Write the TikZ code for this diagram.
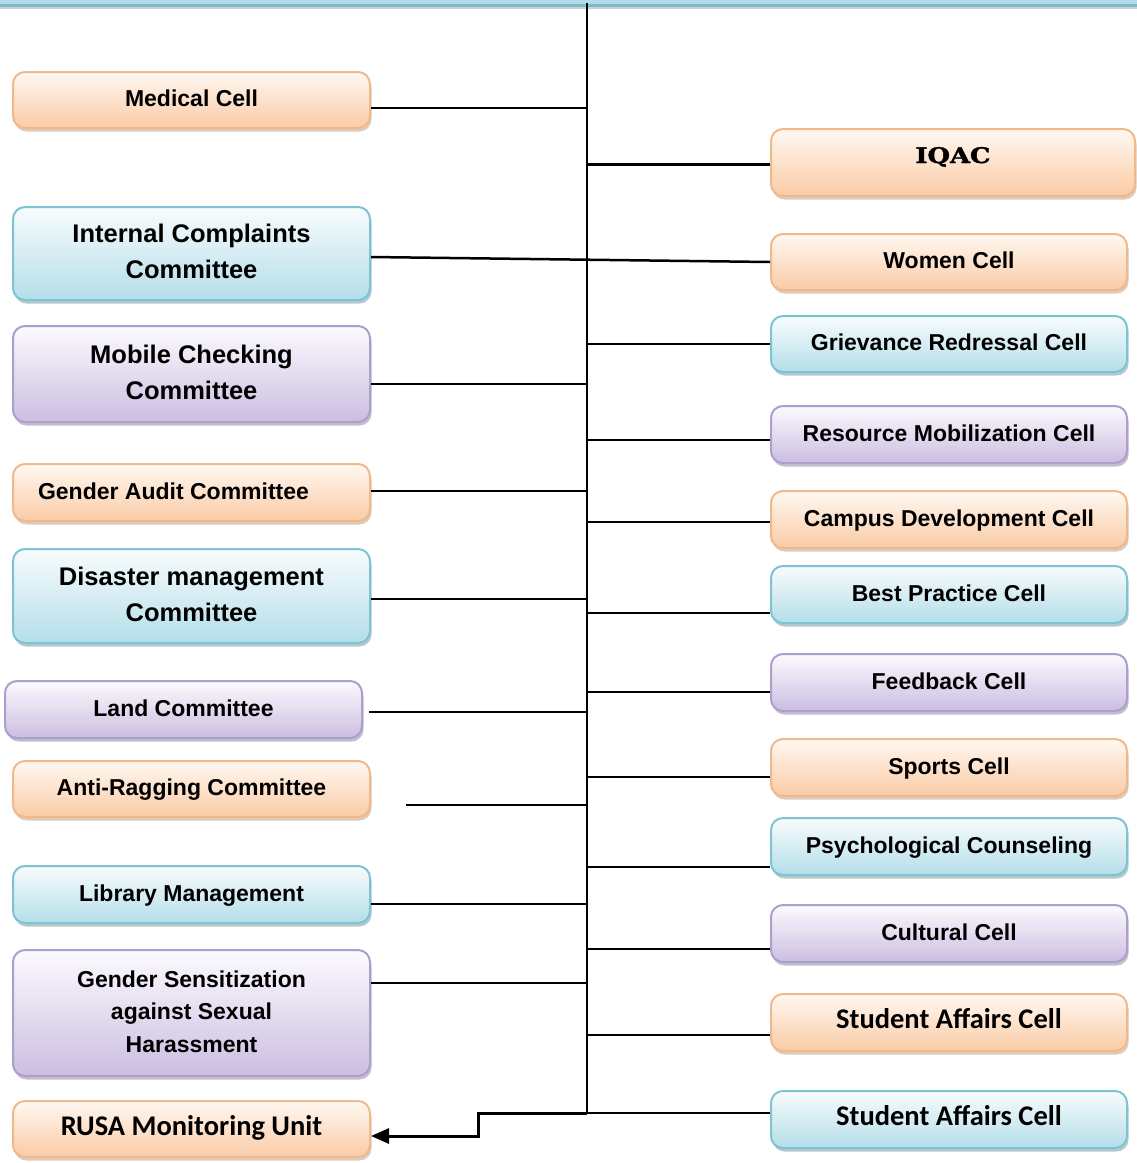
\documentclass[tikz,border=0pt]{standalone}
\usepackage{fontspec}
\setmainfont{Liberation Sans}
\newfontfamily\carl{Carlito}
\newfontface\iqacfont[FakeBold=1.6]{DejaVu Serif Bold}
\usetikzlibrary{shadows,arrows.meta}
\definecolor{obord}{RGB}{240,185,140}
\definecolor{ofill}{RGB}{250,203,165}
\definecolor{otop}{RGB}{255,248,242}
\definecolor{bbord}{RGB}{125,195,212}
\definecolor{bfill}{RGB}{180,222,233}
\definecolor{btop}{RGB}{248,252,253}
\definecolor{pbord}{RGB}{172,158,205}
\definecolor{pfill}{RGB}{203,190,225}
\definecolor{ptop}{RGB}{252,250,254}
\definecolor{band1}{RGB}{178,220,234}
\definecolor{band2}{RGB}{130,185,198}
\definecolor{band3}{RGB}{195,212,216}
\tikzset{
  cell/.style={rounded corners=12pt, line width=2pt, inner sep=0pt, align=center,
    font=\bfseries\fontsize{23}{32.5}\selectfont},
  obox/.style={cell, draw=obord, top color=otop, bottom color=ofill,
    drop shadow={shadow xshift=1.5pt, shadow yshift=-3.5pt, fill=obord!75!black, opacity=.45}},
  bbox/.style={cell, draw=bbord, top color=btop, bottom color=bfill,
    drop shadow={shadow xshift=1.5pt, shadow yshift=-3.5pt, fill=bbord!70!black, opacity=.45}},
  pbox/.style={cell, draw=pbord, top color=ptop, bottom color=pfill,
    drop shadow={shadow xshift=1.5pt, shadow yshift=-3.5pt, fill=pbord!70!black, opacity=.45}},
  big/.style={font=\bfseries\fontsize{25.5}{36}\selectfont},
  cal/.style={font=\carl\bfseries\fontsize{28.5}{32}\selectfont},
  link/.style={line width=2.5pt, black},
}
\newcommand\cellbox[7]{%
  \node[#6, minimum width={(#4-#2)*1pt}, minimum height={(#5-#3-4)*1pt}]
    (#1) at ({(#2+#4)/2},{(#3+#5-4)/2})
    {\raisebox{2.5pt}{\begin{tabular}{@{}c@{}}#7\end{tabular}}};}
\begin{document}
\begin{tikzpicture}[x=1pt,y=-1pt]
\useasboundingbox (0,0) rectangle (1137,1163);
% top band
\fill[band1] (0,0) rectangle (1137,3.5);
\fill[band2] (0,3.5) rectangle (1137,7);
\fill[band3] (0,7) rectangle (1137,9);
% left column
\cellbox{med}{13}{72}{370}{132}{obox}{Medical Cell}
\cellbox{icc}{13}{207}{370}{304}{bbox,big}{Internal Complaints\\Committee}
\cellbox{mob}{13}{326}{370}{426}{pbox,big}{Mobile Checking\\Committee}
\cellbox{gac}{13}{464}{370}{525}{obox}{Gender Audit Committee\hspace*{36pt}}
\cellbox{dis}{13}{549}{370}{647}{bbox,big}{Disaster management\\Committee}
\cellbox{land}{5}{681}{362}{742}{pbox}{Land Committee}
\cellbox{anti}{13}{761}{370}{821}{obox}{Anti-Ragging Committee}
\cellbox{lib}{13}{866}{370}{927}{bbox}{Library Management}
\cellbox{gss}{13}{950}{370}{1080}{pbox}{Gender Sensitization\\against Sexual\\Harassment}
\cellbox{rusa}{13}{1101}{370}{1161}{obox,cal}{RUSA Monitoring Unit}
% right column
\cellbox{iqac}{771}{129}{1135}{200}{obox}{\raisebox{6pt}{\iqacfont\fontsize{21.5}{24}\selectfont\scalebox{1.2}[1]{IQAC}}}
\cellbox{women}{771}{234}{1127}{294}{obox}{Women Cell}
\cellbox{griev}{771}{316}{1127}{376}{bbox}{Grievance Redressal Cell}
\cellbox{res}{771}{406}{1127}{467}{pbox}{Resource Mobilization Cell}
\cellbox{camp}{771}{491}{1127}{552}{obox}{Campus Development Cell}
\cellbox{best}{771}{566}{1127}{627}{bbox}{Best Practice Cell}
\cellbox{feed}{771}{654}{1127}{715}{pbox}{Feedback Cell}
\cellbox{sport}{771}{739}{1127}{800}{obox}{Sports Cell}
\cellbox{psy}{771}{818}{1127}{879}{bbox}{Psychological Counseling}
\cellbox{cult}{771}{905}{1127}{966}{pbox}{Cultural Cell}
\cellbox{saa}{771}{994}{1127}{1055}{obox,cal}{Student Affairs Cell}
\cellbox{sab}{771}{1091}{1127}{1152}{bbox,cal}{Student Affairs Cell}
% trunk
\coordinate (top) at (587,3);
\coordinate (bot) at (587,1113);
\coordinate (bend) at (478,1113);
\draw[line width=2.8pt] (top) -- (bot);
% left connectors
\draw[link] ([yshift=-8pt]med.east) -- ([yshift=-8pt]med.east -| top);
\draw[link] ([yshift=-3.5pt]icc.east) -- ([yshift=0pt]women.west);
\draw[link] ([yshift=-10pt]mob.east) -- ([yshift=-10pt]mob.east -| top);
\draw[link] ([yshift=1.5pt]gac.east) -- ([yshift=1.5pt]gac.east -| top);
\draw[link] ([yshift=-3pt]dis.east) -- ([yshift=-3pt]dis.east -| top);
\draw[link] ([xshift=6pt,yshift=-2.5pt]land.east) -- ([yshift=-2.5pt]land.east -| top);
\draw[link] ([xshift=35pt,yshift=-16pt]anti.east) -- ([yshift=-16pt]anti.east -| top);
\draw[link] ([yshift=-9.5pt]lib.east) -- ([yshift=-9.5pt]lib.east -| top);
\draw[link] ([yshift=30pt]gss.east) -- ([yshift=30pt]gss.east -| top);
% right connectors
\draw[link] ([yshift=-2pt]iqac.west -| top) -- ([yshift=-2pt]iqac.west);
\draw[link] ([yshift=0pt]griev.west -| top) -- ([yshift=0pt]griev.west);
\draw[link] ([yshift=-5.5pt]res.west -| top) -- ([yshift=-5.5pt]res.west);
\draw[link] ([yshift=-2.5pt]camp.west -| top) -- ([yshift=-2.5pt]camp.west);
\draw[link] ([yshift=-18.5pt]best.west -| top) -- ([yshift=-18.5pt]best.west);
\draw[link] ([yshift=-9.5pt]feed.west -| top) -- ([yshift=-9.5pt]feed.west);
\draw[link] ([yshift=-9.5pt]sport.west -| top) -- ([yshift=-9.5pt]sport.west);
\draw[link] ([yshift=-20.5pt]psy.west -| top) -- ([yshift=-20.5pt]psy.west);
\draw[link] ([yshift=-15.5pt]cult.west -| top) -- ([yshift=-15.5pt]cult.west);
\draw[link] ([yshift=-12.5pt]saa.west -| top) -- ([yshift=-12.5pt]saa.west);
\draw[link] (bot) -- (bot -| sab.west);
% arrow to RUSA
\draw[link, line width=3pt, -{Triangle[length=18pt,width=15pt]}] (bot) -- (bend) |- ([yshift=-7pt]rusa.east);
\end{tikzpicture}
\end{document}
